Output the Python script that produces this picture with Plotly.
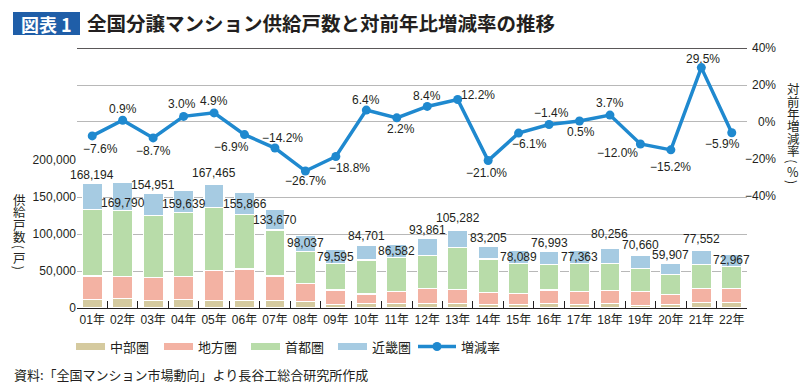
import plotly.graph_objects as go

W, H = 812, 392

# ---------------- data ----------------
years = ["01年", "02年", "03年", "04年", "05年", "06年", "07年", "08年", "09年", "10年", "11年",
         "12年", "13年", "14年", "15年", "16年", "17年", "18年", "19年", "20年", "21年", "22年"]
region_names = ["中部圏", "地方圏", "首都圏", "近畿圏"]
chubu = [11200, 12600, 10400, 11200, 10400, 10400, 9900, 8600, 5000, 6300, 6300,
         6300, 6300, 5000, 5000, 6300, 5000, 6300, 3600, 5000, 7700, 7700]
chiho = [32000, 29700, 31000, 31100, 40000, 42300, 33300, 24700, 19300, 12600, 15700,
         20300, 18900, 15700, 14800, 18000, 17500, 17600, 18400, 13500, 18900, 18900]
shuto = [90100, 89200, 83400, 86500, 85200, 73300, 62200, 43300, 36100, 46000, 46500,
         44100, 56800, 45500, 40600, 34700, 37900, 36500, 31600, 27000, 32400, 29200]
kinki = [34900, 38300, 30200, 30800, 31900, 29900, 28300, 21400, 19200, 19800, 18100,
         23200, 23300, 17000, 17700, 18000, 17000, 19900, 17100, 14400, 18600, 17200]
totals = [168194, 169790, 154951, 159639, 167465, 155866, 133670, 98037, 79595, 84701, 86582,
          93861, 105282, 83205, 78089, 76993, 77363, 80256, 70660, 59907, 77552, 72967]
rates = [-7.6, 0.9, -8.7, 3.0, 4.9, -6.9, -14.2, -26.7, -18.8, 6.4, 2.2,
         8.4, 12.2, -21.0, -6.1, -1.4, 0.5, 3.7, -12.0, -15.2, 29.5, -5.9]
left_ticks = [0, 50000, 100000, 150000, 200000]
right_ticks = [40, 20, 0, -20, -40]
right_tick_labels = ["40%", "20%", "0%", "−20%", "−40%"]
line_name = "増減率"
left_title = ["供", "給", "戸", "数", "(", "戸", ")"]
right_title = ["対", "前", "年", "増", "減", "率", "(", "%", ")"]

# ---------------- styles / label placement (pixels) ----------------
colors = ["#d5ca9f", "#f3b2a3", "#b8dca9", "#a6cbe2"]
BLUE = "#1f89cf"
TXT = "#231f20"
GRID = "#b8b8b8"
NUM_FONT = "Liberation Sans, Arial, Noto Sans CJK JP, sans-serif"
NUM_SIZE = 12
CJK_FONT = "Noto Sans CJK JP, sans-serif"

bar_label_dy = [8.5, -20.6, 8.3, -14.4, 11.4, -11.3, -11, -7.8, -7.6, 9.3, -7.1,
                8.5, 11.8, 8.7, -6.5, 7.7, -6.5, 15, 10.7, 8.7, 11.3, -6]
rate_label_dx = [8, 0.6, 0, -2, 0, -13, 7.5, 0, 14, 0, 4,
                 0, 20, -2, 10.5, 2.3, 1.4, 0, -23, 0, 2, -9]
rate_label_dy = [-13.3, 11.7, -13.3, 12, 11.7, -12.3, 10.5, -10.2, -12, 10, -11.6,
                 10.2, 4.3, -12, -11, 11.6, -10.9, 11.6, -8.9, -17, 9, -11.4]


def px(x):
    return x / W


def py(y):
    return 1 - y / H


fig = go.Figure()
for name, vals, col in zip(region_names, [chubu, chiho, shuto, kinki], colors):
    fig.add_trace(go.Bar(x=years, y=vals, name=name,
                         marker=dict(color=col, line=dict(color="white", width=1.2)),
                         showlegend=False, hoverinfo="skip"))
fig.add_trace(go.Scatter(x=years, y=rates, yaxis="y2", name=line_name, mode="lines+markers",
                         line=dict(color=BLUE, width=3.5), marker=dict(size=9, color=BLUE),
                         showlegend=False, hoverinfo="skip", cliponaxis=False))

annotations = []
# bar total labels
for yr, tot, dy in zip(years, totals, bar_label_dy):
    annotations.append(dict(x=yr, y=tot, xref="x", yref="y", text=f"{tot:,}", showarrow=False,
                            xanchor="center", yanchor="middle", yshift=dy,
                            font=dict(family=NUM_FONT, size=NUM_SIZE, color=TXT)))
# rate labels
for yr, r, dx, dy in zip(years, rates, rate_label_dx, rate_label_dy):
    t = f"{r:.1f}%".replace("-", "−")
    annotations.append(dict(x=yr, y=r, xref="x", yref="y2", text=t, showarrow=False,
                            xanchor="center", yanchor="middle", xshift=dx, yshift=dy,
                            font=dict(family=NUM_FONT, size=NUM_SIZE, color=TXT)))
# right axis tick labels (right aligned)
for v, t in zip(right_ticks, right_tick_labels):
    annotations.append(dict(x=px(778), y=v, xref="paper", yref="y2", text=t, showarrow=False,
                            xanchor="right", yanchor="middle",
                            font=dict(family=NUM_FONT, size=NUM_SIZE, color=TXT)))


# vertical (stacked) axis titles
def vertical_title(chars, xc, ytop, size):
    y = ytop
    for ch in chars:
        paren = ch in "()"
        h = 8.5 if paren else 12.4
        annotations.append(dict(x=px(xc), y=py(y + h / 2), xref="paper", yref="paper", text=ch,
                                showarrow=False, xanchor="center", yanchor="middle",
                                textangle=90 if paren else 0,
                                font=dict(family=CJK_FONT, size=size, color=TXT)))
        y += h


vertical_title(left_title, 19, 193, 12.5)
vertical_title(right_title, 793, 82.5, 12.5)

# title
annotations.append(dict(x=px(46.5), y=py(23.5), xref="paper", yref="paper", text="<b>図表 1</b>",
                        showarrow=False, xanchor="center", yanchor="middle",
                        font=dict(family=CJK_FONT, size=18, color="white")))
annotations.append(dict(x=px(85), y=py(23), xref="paper", yref="paper",
                        text="<b>全国分譲マンション供給戸数と対前年比増減率の推移</b>",
                        showarrow=False, xanchor="left", yanchor="middle",
                        font=dict(family=CJK_FONT, size=19.5, color=TXT)))
# source
annotations.append(dict(x=px(12), y=py(374), xref="paper", yref="paper",
                        text="資料:「全国マンション市場動向」より長谷工総合研究所作成",
                        showarrow=False, xanchor="left", yanchor="middle",
                        font=dict(family=CJK_FONT, size=13, color=TXT)))

shapes = []
# title box
shapes.append(dict(type="rect", xref="paper", yref="paper", x0=px(13), x1=px(80), y0=py(35), y1=py(12),
                   fillcolor="#1f5ea8", line=dict(width=0), layer="below"))
# top 40% line
shapes.append(dict(type="line", xref="x domain", yref="y2", x0=0, x1=1, y0=40, y1=40,
                   line=dict(color=TXT, width=1.4)))

# custom legend
leg_y = 346.5
swatch_x = [76, 164, 251, 338]
for sx, name, col in zip(swatch_x, region_names, colors):
    shapes.append(dict(type="rect", xref="paper", yref="paper", x0=px(sx), x1=px(sx + 29),
                       y0=py(leg_y + 3.5), y1=py(leg_y - 3.5), fillcolor=col, line=dict(width=0)))
    annotations.append(dict(x=px(sx + 32), y=py(leg_y), xref="paper", yref="paper", text=name,
                            showarrow=False, xanchor="left", yanchor="middle",
                            font=dict(family=CJK_FONT, size=13, color=TXT)))
shapes.append(dict(type="line", xref="paper", yref="paper", x0=px(418), x1=px(456), y0=py(leg_y), y1=py(leg_y),
                   line=dict(color=BLUE, width=3.5)))
shapes.append(dict(type="circle", xref="paper", yref="paper", x0=px(432.5), x1=px(441.5),
                   y0=py(leg_y + 4.5), y1=py(leg_y - 4.5), fillcolor=BLUE, line=dict(width=0)))
annotations.append(dict(x=px(459), y=py(leg_y), xref="paper", yref="paper", text=line_name,
                        showarrow=False, xanchor="left", yanchor="middle",
                        font=dict(family=CJK_FONT, size=13, color=TXT)))

fig.update_layout(
    template="none",
    width=W, height=H, autosize=False,
    margin=dict(l=0, r=0, t=0, b=0, pad=0),
    paper_bgcolor="white", plot_bgcolor="rgba(0,0,0,0)",
    barmode="stack", bargap=0.343,
    showlegend=False,
    xaxis=dict(domain=[px(77), px(747)], anchor="y", type="category", automargin=False,
               range=[-0.5, len(years) - 0.5],
               showline=True, linecolor=TXT, linewidth=1.3, tickangle=0,
               ticks="inside", ticklen=7, tickwidth=1.2, tickcolor=TXT, tickson="boundaries",
               showgrid=False, zeroline=False,
               tickfont=dict(family=NUM_FONT, size=NUM_SIZE, color=TXT)),
    yaxis=dict(domain=[py(308), py(160)], range=[0, 200000], tickvals=left_ticks, tickformat=",d",
               automargin=False, showgrid=True, gridcolor=GRID, gridwidth=1, zeroline=False,
               showline=False, ticks="",
               tickfont=dict(family=NUM_FONT, size=NUM_SIZE, color=TXT)),
    yaxis2=dict(domain=[py(195.5), py(48.3)], range=[-40, 40], anchor="x", side="right",
                automargin=False, tickvals=[20, 0], showticklabels=False, showgrid=True,
                gridcolor=GRID, gridwidth=1, zeroline=False, showline=False, ticks=""),
    annotations=annotations,
    shapes=shapes,
)

fig.write_html("out.html", config={"displayModeBar": False},
               post_script="document.body.style.margin='0px';")
